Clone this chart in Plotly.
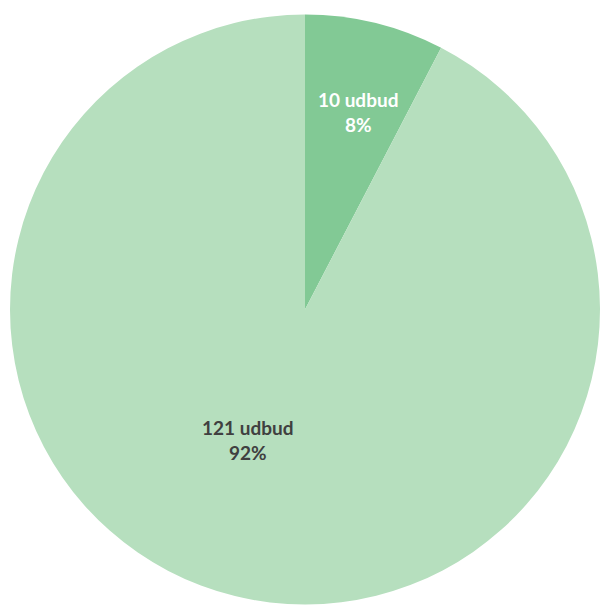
import plotly.graph_objects as go

labels = ["10 udbud", "121 udbud"]
values = [10, 121]
colors = ["#82C995", "#B6DFBE"]
text_colors = ["#FFFFFF", "#404040"]

total = sum(values)

fig = go.Figure(go.Pie(
    labels=labels,
    values=values,
    sort=False,
    direction="clockwise",
    rotation=0,
    marker=dict(colors=colors, line=dict(width=0)),
    textinfo="none",
    hoverinfo="label+percent",
    showlegend=False,
))

# plot area: page x 10..600, y 14..605 (body margin removed)
def to_paper(px, py, x0=10, y0=14, w=590, h=591):
    return (px - x0) / w, 1 - (py - y0) / h

label_pos = [to_paper(357.5, 111.5), to_paper(247.5, 440)]
for v, c, (px, py) in zip(values, text_colors, label_pos):
    pct = round(100 * v / total)
    fig.add_annotation(
        x=px, y=py, xref="paper", yref="paper",
        text=f"<b>{v} udbud<br>{pct}%</b>",
        showarrow=False,
        font=dict(family="Lato", size=19, color=c),
        align="center",
        xanchor="center", yanchor="middle",
    )

fig.update_layout(
    width=600, height=605,
    margin=dict(l=10, r=0, t=14, b=0, autoexpand=False),
    paper_bgcolor="white",
    plot_bgcolor="white",
)

fig.write_html(
    "out.html",
    config={"displayModeBar": False},
    post_script="document.body.style.margin='0';document.body.style.overflow='hidden';",
)
